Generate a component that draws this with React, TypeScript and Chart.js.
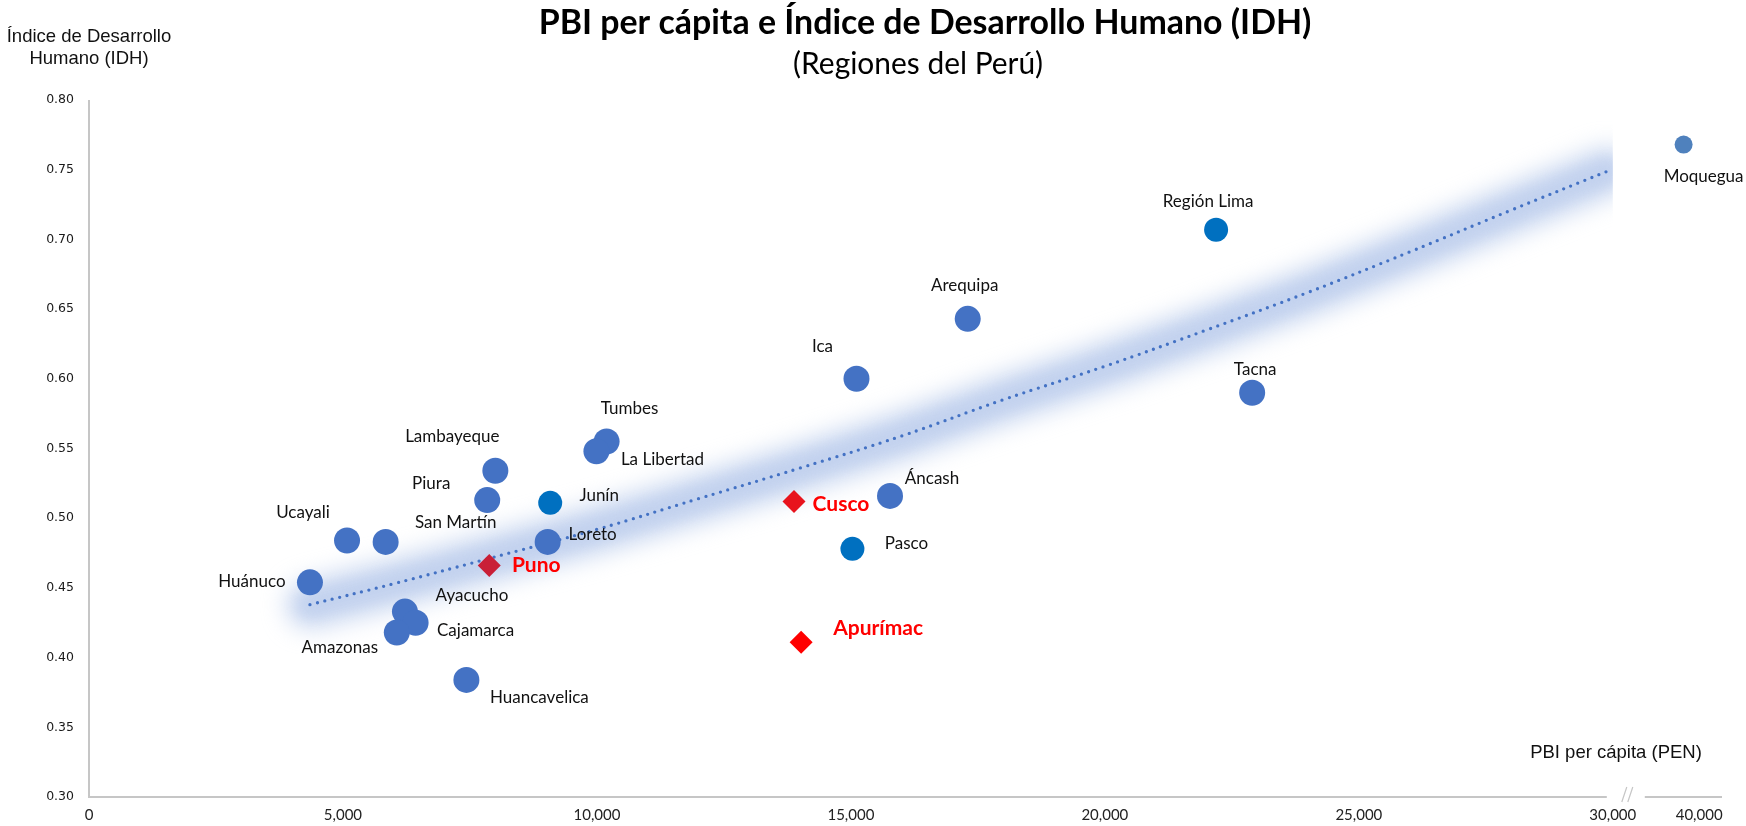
import React, { useEffect, useRef } from "react";
import { Chart, registerables } from "chart.js";

Chart.register(...registerables);

// ---------------- Data ----------------
const regions = [
  "Huánuco", "Ucayali", "San Martín", "Piura", "Lambayeque", "Junín", "Loreto", "Puno",
  "Ayacucho", "Cajamarca", "Amazonas", "Huancavelica", "Tumbes", "La Libertad", "Ica",
  "Arequipa", "Región Lima", "Tacna", "Áncash", "Pasco", "Cusco", "Apurímac", "Moquegua",
];
const pbiPerCapita = [
  4350, 5080, 5840, 7840, 8000, 9080, 9030, 7880,
  6220, 6430, 6060, 7430, 10190, 9990, 15110,
  17300, 22190, 22900, 15770, 15030, 13880, 14020, 38200,
];
const idh = [
  0.454, 0.484, 0.483, 0.513, 0.534, 0.511, 0.483, 0.466,
  0.433, 0.425, 0.418, 0.384, 0.555, 0.548, 0.600,
  0.643, 0.707, 0.590, 0.516, 0.478, 0.512, 0.411, 0.768,
];

// Trend line
const trendPbi = [4350, 6000, 7760, 10000, 12000, 14000, 16000, 18000, 20000, 22000, 24000, 26000, 28000, 29900];
const trendIdh = [0.438, 0.453, 0.470, 0.492, 0.514, 0.536, 0.559, 0.585, 0.609, 0.635, 0.662, 0.691, 0.721, 0.749];

const xTickValues = [0, 5000, 10000, 15000, 20000, 25000, 30000, 40000];
const yTickValues = [0.3, 0.35, 0.4, 0.45, 0.5, 0.55, 0.6, 0.65, 0.7, 0.75, 0.8];

const titleText = "PBI per cápita e Índice de Desarrollo Humano (IDH)";
const subtitleText = "(Regiones del Perú)";
const yTitleLines = ["Índice de Desarrollo", "Humano (IDH)"];
const xTitleText = "PBI per cápita (PEN)";

// ---------------- Broken x axis ----------------
const AXIS_BREAK = 30000;
const BREAK_RATIO = 0.17;
const X_AXIS_MAX = 32150;
const toAxis = (v: number) => (v <= AXIS_BREAK ? v : AXIS_BREAK + (v - AXIS_BREAK) * BREAK_RATIO);
const fromAxis = (a: number) => (a <= AXIS_BREAK ? a : AXIS_BREAK + (a - AXIS_BREAK) / BREAK_RATIO);

// ---------------- Styles ----------------
const BLUE = "#4472C4";
type Marker = { color: string; radius: number; shape: string };
const defaultMarker: Marker = { color: BLUE, radius: 13, shape: "circle" };
const markerStyles: Record<string, Marker> = {
  "Junín": { color: "#0070C0", radius: 12, shape: "circle" },
  "Región Lima": { color: "#0070C0", radius: 12, shape: "circle" },
  "Pasco": { color: "#0070C0", radius: 12, shape: "circle" },
  "Moquegua": { color: "#4F81BD", radius: 9, shape: "circle" },
  "Puno": { color: "#C91F37", radius: 11.5, shape: "rectRot" },
  "Cusco": { color: "#E8131D", radius: 11.5, shape: "rectRot" },
  "Apurímac": { color: "#FF0000", radius: 11.5, shape: "rectRot" },
};
const highlightedLabels = ["Puno", "Cusco", "Apurímac"];
const labelOffsets: Record<string, [number, number]> = {
  "Huánuco": [-58, -1],
  "Ucayali": [-44, -28],
  "San Martín": [70, -19],
  "Piura": [-56, -17],
  "Lambayeque": [-43, -34],
  "Junín": [49, -7],
  "Loreto": [45, -7],
  "Puno": [47, 0],
  "Ayacucho": [67, -16],
  "Cajamarca": [60, 8],
  "Amazonas": [-57, 15],
  "Huancavelica": [73, 18],
  "Tumbes": [23, -33],
  "La Libertad": [66, 8],
  "Ica": [-34, -32],
  "Arequipa": [-3, -33],
  "Región Lima": [-8, -28],
  "Tacna": [3, -23],
  "Áncash": [42, -17],
  "Pasco": [54, -5],
  "Cusco": [47, 3],
  "Apurímac": [77, -14],
  "Moquegua": [20, 32],
};

const markerOf = (name: string) => markerStyles[name] || defaultMarker;

function fitSize(ctx: CanvasRenderingContext2D, text: string, weight: string, family: string, target: number) {
  ctx.font = `${weight} 100px ${family}`;
  const w = ctx.measureText(text).width;
  return (100 * target) / w;
}

const decorPlugin = {
  id: "decor",
  beforeDatasetsDraw(chart: any) {
    const ctx: CanvasRenderingContext2D = chart.ctx;
    const xs = chart.scales.x;
    const ys = chart.scales.y;
    const area = chart.chartArea;
    const pts = trendPbi.map((v, i) => [xs.getPixelForValue(toAxis(v)), ys.getPixelForValue(trendIdh[i])]);
    const tracePath = () => {
      ctx.beginPath();
      pts.forEach(([px, py], i) => {
        if (i === 0) ctx.moveTo(px, py);
        else ctx.lineTo(px, py);
      });
    };
    // glow band behind the trend line
    ctx.save();
    const clipRight = xs.getPixelForValue(AXIS_BREAK);
    ctx.beginPath();
    ctx.rect(0, 0, clipRight, chart.height);
    ctx.clip();
    ctx.lineCap = "round";
    ctx.lineJoin = "round";
    ctx.filter = "blur(12px)";
    ctx.strokeStyle = "rgba(182,201,235,0.8)";
    ctx.lineWidth = 46;
    tracePath();
    ctx.stroke();
    ctx.filter = "blur(6px)";
    ctx.strokeStyle = "rgba(190,207,237,0.45)";
    ctx.lineWidth = 26;
    tracePath();
    ctx.stroke();
    ctx.restore();

    // axes
    ctx.save();
    ctx.strokeStyle = "#C6C6C6";
    ctx.lineWidth = 2;
    const bp = xs.getPixelForValue(AXIS_BREAK);
    ctx.beginPath();
    ctx.moveTo(area.left, area.top);
    ctx.lineTo(area.left, area.bottom);
    ctx.lineTo(bp - 6, area.bottom);
    ctx.moveTo(bp + 32, area.bottom);
    ctx.lineTo(area.right, area.bottom);
    ctx.stroke();
    ctx.lineWidth = 1.2;
    ctx.beginPath();
    ctx.moveTo(bp + 9, area.bottom + 5);
    ctx.lineTo(bp + 14, area.bottom - 10);
    ctx.moveTo(bp + 15, area.bottom + 5);
    ctx.lineTo(bp + 20, area.bottom - 10);
    ctx.stroke();
    ctx.restore();
  },
  afterDraw(chart: any) {
    const ctx: CanvasRenderingContext2D = chart.ctx;
    const xs = chart.scales.x;
    const ys = chart.scales.y;
    ctx.save();
    ctx.textAlign = "center";
    ctx.textBaseline = "middle";

    // data labels
    regions.forEach((name, i) => {
      const px = xs.getPixelForValue(toAxis(pbiPerCapita[i]));
      const py = ys.getPixelForValue(idh[i]);
      const off = labelOffsets[name] || [0, -25];
      if (highlightedLabels.includes(name)) {
        ctx.font = "bold 21px Lato";
        ctx.fillStyle = "#FF0000";
      } else {
        ctx.font = "17px Lato";
        ctx.fillStyle = "#111111";
      }
      ctx.fillText(name, px + off[0], py + off[1]);
    });

    // title & subtitle
    ctx.fillStyle = "#000000";
    const ts = fitSize(ctx, titleText, "bold", "Lato", 773);
    ctx.font = `bold ${ts}px Lato`;
    ctx.fillText(titleText, 925, 23);
    const ss = fitSize(ctx, subtitleText, "normal", "Lato", 250);
    ctx.font = `normal ${ss}px Lato`;
    ctx.fillText(subtitleText, 918, 64);

    // axis titles
    ctx.font = "18.5px 'Liberation Sans'";
    ctx.fillStyle = "#111111";
    ctx.fillText(yTitleLines[0], 89, 37);
    ctx.fillText(yTitleLines[1], 89, 58.5);
    ctx.fillText(xTitleText, 1616, 753);
    ctx.restore();
  },
};

export default function App() {
  const canvasRef = useRef<HTMLCanvasElement | null>(null);

  useEffect(() => {
    if (!canvasRef.current) return;
    const markers = regions.map(markerOf);
    const chart = new Chart(canvasRef.current, {
      type: "scatter",
      data: {
        datasets: [
          {
            type: "line",
            label: "Tendencia",
            data: trendPbi.map((v, i) => ({ x: toAxis(v), y: trendIdh[i] })),
            borderColor: BLUE,
            borderWidth: 3.3,
            borderDash: [0, 7.6],
            borderCapStyle: "round",
            pointRadius: 0,
            tension: 0.4,
            fill: false,
            order: 2,
          } as any,
          {
            label: "Regiones",
            data: regions.map((_, i) => ({ x: toAxis(pbiPerCapita[i]), y: idh[i] })),
            pointBackgroundColor: markers.map((m) => m.color),
            pointBorderColor: markers.map((m) => m.color),
            pointBorderWidth: 0,
            pointRadius: markers.map((m) => m.radius),
            pointStyle: markers.map((m) => m.shape) as any,
            order: 1,
            clip: false as any,
          },
        ],
      },
      options: {
        responsive: false,
        animation: false,
        events: [],
        layout: { padding: { top: 100, right: 24, left: 0, bottom: 0 } },
        plugins: {
          legend: { display: false },
          tooltip: { enabled: false },
          title: { display: false },
        },
        scales: {
          x: {
            type: "linear",
            min: 0,
            max: X_AXIS_MAX,
            afterBuildTicks: (s: any) => {
              s.ticks = xTickValues.map((v) => ({ value: toAxis(v) }));
            },
            afterFit: (s: any) => {
              s.height = 29;
            },
            ticks: {
              autoSkip: false,
              maxRotation: 0,
              padding: 9,
              color: "#222222",
              font: { family: "Lato", size: 15 },
              callback: (val: any) => Math.round(fromAxis(Number(val))).toLocaleString("en-US"),
            },
            grid: { display: false, drawTicks: false },
            border: { display: false },
          },
          y: {
            type: "linear",
            min: 0.3,
            max: 0.8,
            afterBuildTicks: (s: any) => {
              s.ticks = yTickValues.map((v) => ({ value: v }));
            },
            afterFit: (s: any) => {
              s.width = 89;
            },
            ticks: {
              padding: 15,
              color: "#1a1a1a",
              font: { family: "'DejaVu Sans'", size: 12.5 },
              callback: (val: any) => Number(val).toFixed(2),
            },
            grid: { display: false, drawTicks: false },
            border: { display: false },
          },
        },
      },
      plugins: [decorPlugin],
    });
    return () => chart.destroy();
  }, []);

  return (
    <div style={{ position: "absolute", left: 0, top: 0, width: 1746, height: 826, background: "#ffffff" }}>
      <canvas ref={canvasRef} width={1746} height={826} style={{ display: "block" }} />
    </div>
  );
}
